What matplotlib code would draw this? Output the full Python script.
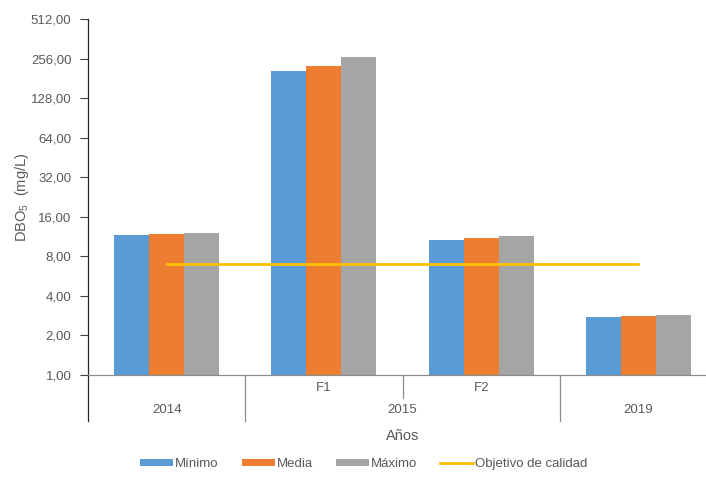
import matplotlib
matplotlib.use("Agg")
import matplotlib.pyplot as plt
from matplotlib.ticker import FixedLocator, FixedFormatter, NullLocator
import matplotlib.transforms as mtransforms

plt.rcParams['font.family'] = ['Liberation Sans', 'DejaVu Sans']

# Data
categories = ["2014", "F1", "F2", "2019"]
minimo = [11.6, 206, 10.6, 2.75]
media = [11.8, 224, 11.0, 2.80]
maximo = [12.0, 262, 11.4, 2.88]
objetivo = [7, 7, 7, 7]
series_names = ["Mínimo", "Media", "Máximo"]
yticks = [1, 2, 4, 8, 16, 32, 64, 128, 256, 512]
ytick_labels = ["1,00", "2,00", "4,00", "8,00", "16,00", "32,00", "64,00", "128,00", "256,00", "512,00"]
sub_labels = ["", "F1", "F2", ""]
year_labels = [("2014", 0), ("2015", 1.5), ("2019", 3)]

colors = ["#5B9BD5", "#ED7D31", "#A5A5A5"]
line_color = "#FFC000"
txt = "#595959"

W, H = 706, 479
fig = plt.figure(figsize=(W / 100, H / 100), dpi=100)
ax = fig.add_axes([88 / W, (H - 375) / H, 618 / W, 356 / H])

x = list(range(len(categories)))
bw = 0.2225
bar_handles = []
for k, (vals, name) in enumerate(zip([minimo, media, maximo], series_names)):
    b = ax.bar([xi + (k - 1) * bw for xi in x], vals, width=bw, color=colors[k],
               label=name, zorder=2, bottom=0)
    bar_handles.append(b)
ln, = ax.plot(x, objetivo, color=line_color, lw=2.0, label="Objetivo de calidad", zorder=3)

ax.set_yscale('log', base=2)
ax.set_ylim(1, 512)
ax.set_xlim(-0.5, 3.43)
ax.yaxis.set_major_locator(FixedLocator(yticks))
ax.yaxis.set_major_formatter(FixedFormatter(ytick_labels))
ax.yaxis.set_minor_locator(NullLocator())
ax.tick_params(axis='y', which='major', length=6, width=0.8, color="#404040",
               labelcolor=txt, labelsize=9.5, pad=6)
ax.set_xticks([])
for s in ['top', 'right']:
    ax.spines[s].set_visible(False)
ax.spines['left'].set_color("#262626")
ax.spines['left'].set_linewidth(0.9)
ax.spines['bottom'].set_color("#8C8C8C")
ax.spines['bottom'].set_linewidth(0.9)

trans = mtransforms.blended_transform_factory(ax.transData, ax.transAxes)
# separators
for xs, yb in [(-0.5, -0.128), (0.5, -0.128), (1.5, -0.065), (2.5, -0.128)]:
    col = "#262626" if xs == -0.5 else "#8C8C8C"
    ax.plot([xs, xs], [0, yb], transform=trans, color=col, lw=0.9, clip_on=False)

for xi, lab in zip(x, sub_labels):
    if lab:
        ax.text(xi, -0.037, lab, transform=trans, ha='center', va='center',
                color=txt, fontsize=9.5)
for lab, xi in year_labels:
    ax.text(xi, -0.099, lab, transform=trans, ha='center', va='center',
            color=txt, fontsize=9.5)

fig.text(403 / W, (H - 436) / H, "Años", ha='center', va='center',
         color=txt, fontsize=10.5)
fig.text(22 / W, (H - 197) / H, "DBO$_\\mathregular{5}$  (mg/L)", rotation=90,
         ha='center', va='center', color=txt, fontsize=10.5)

handles = bar_handles + [ln]
labels = series_names + ["Objetivo de calidad"]
leg = fig.legend(handles, labels, ncol=4, loc='center',
                 bbox_to_anchor=(364 / W, (H - 464) / H), frameon=False,
                 fontsize=9.5, handlelength=2.5, handleheight=0.45,
                 handletextpad=0.15, columnspacing=1.75, labelcolor=txt)

fig.savefig("out.png", dpi=100)
